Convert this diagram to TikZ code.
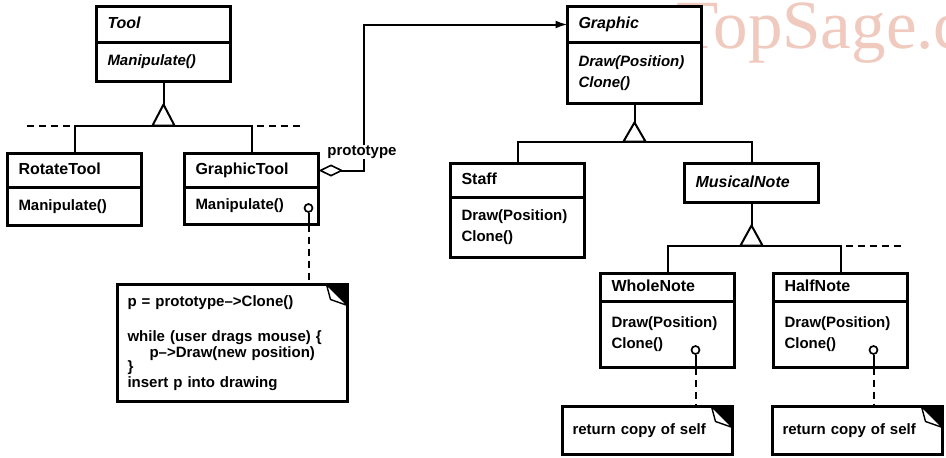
\documentclass[tikz,border=0pt]{standalone}
\usepackage{fontspec}
\setmainfont{Liberation Sans}
\newfontfamily\wmfont{Liberation Serif}
\usetikzlibrary{arrows.meta,calc}
\definecolor{wmcol}{RGB}{240,202,190}
\tikzset{
  box/.style={draw, line width=2.2pt, fill=white, outer sep=0pt, inner xsep=11pt, inner ysep=0pt,
    text width=112pt, align=left, font=\fontsize{15}{21}\selectfont\bfseries},
  namebox/.style={box, text height=11.5pt, text depth=3.5pt, font=\fontsize{16}{21}\selectfont\bfseries},
  conn/.style={line width=2pt},
  tri/.style={line width=2pt, fill=white, line join=miter},
  notebox/.style={draw, line width=2.2pt, fill=white, outer sep=0pt, inner xsep=10pt, inner ysep=0pt,
    align=left, font=\fontsize{15}{16}\selectfont\bfseries},
  hook/.style={circle, draw, line width=1.7pt, fill=white, inner sep=0pt, minimum size=8pt},
  dashline/.style={line width=2pt, dash pattern=on 7pt off 5pt},
  lbl/.style={fill=white, inner sep=1pt, font=\fontsize{15}{15}\selectfont\bfseries},
}
\begin{document}
\begin{tikzpicture}[x=1pt,y=-1pt]
\fill[white] (0,0) rectangle (946,458);
\useasboundingbox (0,0) rectangle (946,458);
% watermark
\begin{scope}
\clip (0,0) rectangle (946,458);
\node[anchor=base west, text=wmcol, font=\wmfont\fontsize{69}{69}\selectfont, inner sep=0pt] (wm) at (676,48) {TopSage.com};
\end{scope}

% classes
\node[namebox, minimum height=36pt, anchor=north] (tool) at (163.5,6.5) {\itshape Tool};
\node[box, minimum height=39pt, anchor=north] (toolm) at (tool.south) {\itshape Manipulate()};

\node[namebox, minimum height=34pt, anchor=north] (rtool) at (74.5,153.5) {RotateTool};
\node[box, minimum height=38pt, anchor=north] (rtoolm) at (rtool.south) {Manipulate()};

\node[namebox, minimum height=34pt, anchor=north] (gtool) at (251.5,153.5) {GraphicTool};
\node[box, minimum height=37pt, anchor=north] (gtoolm) at (gtool.south) {Manipulate()};

\node[namebox, minimum height=36pt, anchor=north] (graphic) at (634.5,6.5) {\itshape Graphic};
\node[box, minimum height=61pt, anchor=north] (graphicm) at (graphic.south) {\itshape Draw(Position)\\ Clone()};

\node[namebox, minimum height=34pt, anchor=north] (staff) at (517.5,163.5) {Staff};
\node[box, minimum height=60pt, anchor=north] (staffm) at (staff.south) {Draw(Position)\\ Clone()};

\node[namebox, minimum height=39pt, anchor=north] (mnote) at (751.5,163.5) {\itshape MusicalNote};

\node[namebox, minimum height=28pt, anchor=north] (wnote) at (667.5,273.5) {WholeNote};
\node[box, minimum height=66pt, anchor=north] (wnotem) at (wnote.south) {Draw(Position)\\ Clone()};

\node[namebox, minimum height=28pt, anchor=north] (hnote) at (840.5,273.5) {HalfNote};
\node[box, minimum height=66pt, anchor=north] (hnotem) at (hnote.south) {Draw(Position)\\ Clone()};

% notes
\node[notebox, text width=210pt, minimum height=117pt, anchor=north west] (n1) at (117.5,284.5)
  {p = prototype–>Clone()\\[19pt]while (user drags mouse) \{\\\hspace*{22pt}p–>Draw(new position)\\[-2pt]\}\\insert p into drawing};
\node[notebox, text width=150pt, minimum height=48pt, anchor=north west] (n2) at (562.5,406.5) {return copy of self};
\node[notebox, text width=150pt, minimum height=48pt, anchor=north west] (n3) at (772.5,406.5) {return copy of self};
\foreach \n in {n1,n2,n3}{
  \fill ($(\n.north east)+(-21,0)$) -- (\n.north east) -- ($(\n.north east)+(0,21)$) -- cycle;
  \draw[line width=1.4pt, fill=white, line join=round] ($(\n.north east)+(-21,0)$) -- ($(\n.north east)+(-17,15)$) -- ($(\n.north east)+(0,21)$) -- cycle;
}

% hooks
\node[hook] (h1) at (308.5,208) {};
\node[hook] (h2) at (695.5,350) {};
\node[hook] (h3) at (873.5,350) {};
\draw[conn] (h1.south) -- (h1 |- gtoolm.south);
\draw[dashline] (h1 |- gtoolm.south) -- (h1 |- n1.north);
\draw[conn] (h2.south) -- (h2 |- wnotem.south);
\draw[dashline] (h2 |- wnotem.south) -- (h2 |- n2.north);
\draw[conn] (h3.south) -- (h3 |- hnotem.south);
\draw[dashline] (h3 |- hnotem.south) -- (h3 |- n3.north);

% Tool hierarchy
\coordinate (tA) at ($(toolm.south)+(0,23)$);
\coordinate (tB) at ($(toolm.south)+(0,44)$);
\coordinate (tdl) at (25,125.5);
\coordinate (tdr) at (302,125.5);
\draw[conn] (toolm.south) -- (tA);
\draw[conn] (rtool.north) |- (tB) -| (gtool.north);
\draw[dashline] ($(rtool.north |- tB)+(-5,0)$) -- (tdl);
\draw[dashline] ($(gtool.north |- tB)+(5,0)$) -- (tdr);
\draw[tri] (tA) -- ++(-11,21) -- ++(22,0) -- cycle;

% Graphic hierarchy
\coordinate (gA) at ($(graphicm.south)+(0,19)$);
\coordinate (gB) at ($(graphicm.south)+(0,38)$);
\draw[conn] (graphicm.south) -- (gA);
\draw[conn] (staff.north) |- (gB) -| (mnote.north);
\draw[tri] (gA) -- ++(-11,19) -- ++(22,0) -- cycle;

% MusicalNote hierarchy
\coordinate (mA) at ($(mnote.south)+(0,23)$);
\coordinate (mB) at ($(mnote.south)+(0,43)$);
\coordinate (mdr) at (902,245.5);
\draw[conn] (mnote.south) -- (mA);
\draw[conn] (wnote.north) |- (mB) -| (hnote.north);
\draw[dashline] ($(hnote.north |- mB)+(5,0)$) -- (mdr);
\draw[tri] (mA) -- ++(-11,20) -- ++(22,0) -- cycle;

% prototype association
\coordinate (pb) at (363.5,100);
\draw[conn, {Diamond[open, length=25pt, width=12pt, line width=1.6pt]}-{Latex[length=12pt, width=8pt]}]
  (gtool.east) -| (pb) |- (graphic.west);
\node[lbl] (plabel) at (362,152) {prototype};
\end{tikzpicture}
\end{document}
